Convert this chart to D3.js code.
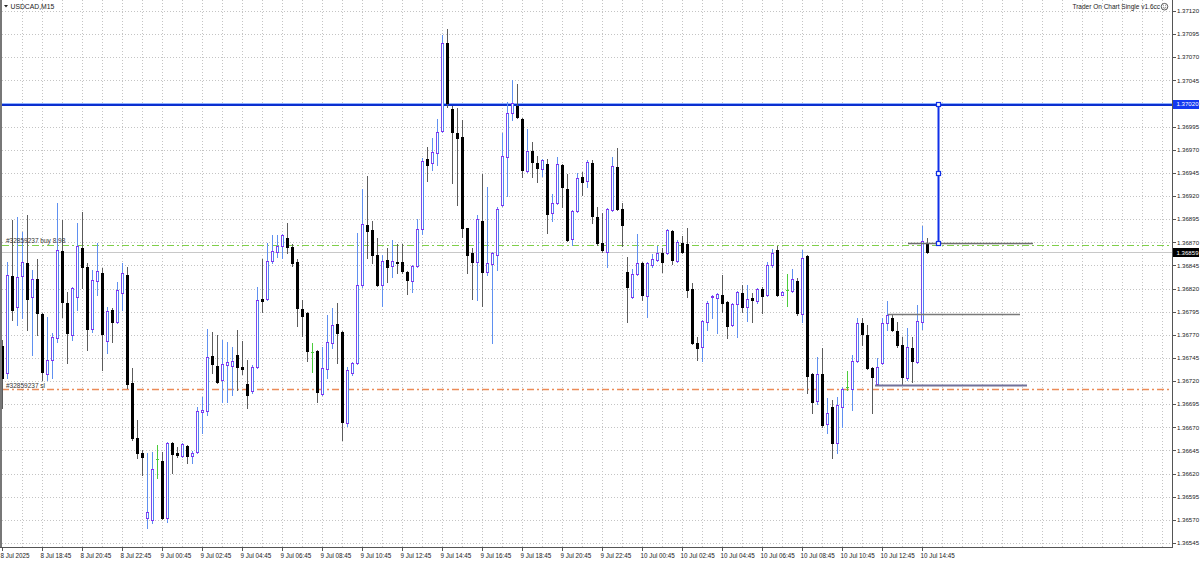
<!DOCTYPE html>
<html>
<head>
<meta charset="utf-8">
<script src="https://cdn.jsdelivr.net/npm/d3@7"></script>
<style>
    body { margin: 0; background: #fff; }
    #chart { width: 1200px; height: 561px; }
    text { font-family: "Liberation Sans", Arial, sans-serif; }
</style>
</head>
<body>
<div id="chart"></div>
<script>
// USDCAD M15, one value per bar, first bar 8 Jul 16:45
const open = [
    1.36758,1.36729,1.36834,1.36800,1.36834,1.36848,1.36811,1.36830,1.36793,1.36728,
    1.36743,1.36767,1.36861,1.36804,1.36770,1.36811,1.36864,1.36843,1.36776,1.36828,
    1.36837,1.36763,1.36797,1.36784,1.36815,1.36835,1.36718,1.36659,1.36642,1.36572,
    1.36570,1.36636,1.36634,1.36572,1.36653,1.36642,1.36639,1.36650,1.36639,1.36643,
    1.36687,1.36688,1.36747,1.36736,1.36721,1.36737,1.36736,1.36748,1.36735,1.36717,
    1.36709,1.36735,1.36809,1.36809,1.36850,1.36859,1.36866,1.36875,1.36865,1.36849,
    1.36798,1.36794,1.36751,1.36752,1.36706,1.36733,1.36761,1.36782,1.36773,1.36675,
    1.36729,1.36740,1.36824,1.36889,1.36883,1.36856,1.36824,1.36851,1.36844,1.36849,
    1.36849,1.36838,1.36828,1.36844,1.36884,1.36960,1.36956,1.36967,1.36990,1.37085,
    1.37014,1.36988,1.36984,1.36885,1.36858,1.36849,1.36893,1.36838,1.36847,1.36856,
    1.36910,1.36962,1.37010,1.37017,1.37003,1.36947,1.36969,1.36956,1.36949,1.36955,
    1.36902,1.36912,1.36954,1.36928,1.36874,1.36904,1.36941,1.36936,1.36956,1.36897,
    1.36869,1.36860,1.36905,1.36951,1.36906,1.36838,1.36811,1.36836,1.36848,1.36812,
    1.36845,1.36851,1.36858,1.36858,1.36882,1.36850,1.36869,1.36868,1.36820,1.36761,
    1.36757,1.36784,1.36811,1.36810,1.36813,1.36805,1.36781,1.36803,1.36815,1.36800,
    1.36810,1.36807,1.36819,1.36813,1.36845,1.36862,1.36813,1.36818,1.36817,1.36828,
    1.36793,1.36855,1.36728,1.36698,1.36728,1.36674,1.36692,1.36653,1.36692,1.36714,
    1.36711,1.36742,1.36783,1.36770,1.36734,1.36717,1.36740,1.36783,1.36788,1.36774,
    1.36759,1.36723,1.36756,1.36741,1.36784,1.36869
];
const high = [
    1.36764,1.36849,1.36894,1.36897,1.36881,1.36899,1.36840,1.36852,1.36794,1.36789,
    1.36772,1.36912,1.36894,1.36816,1.36822,1.36891,1.36903,1.36848,1.36840,1.36869,
    1.36842,1.36800,1.36799,1.36827,1.36848,1.36843,1.36734,1.36678,1.36646,1.36642,
    1.36643,1.36651,1.36643,1.36654,1.36654,1.36649,1.36653,1.36651,1.36644,1.36692,
    1.36703,1.36776,1.36773,1.36770,1.36764,1.36762,1.36757,1.36775,1.36763,1.36743,
    1.36737,1.36822,1.36852,1.36869,1.36878,1.36878,1.36879,1.36891,1.36868,1.36852,
    1.36808,1.36795,1.36761,1.36754,1.36757,1.36791,1.36799,1.36804,1.36774,1.36735,
    1.36741,1.36880,1.36928,1.36942,1.36893,1.36875,1.36856,1.36864,1.36872,1.36868,
    1.36868,1.36839,1.36845,1.36895,1.36961,1.36973,1.36983,1.37003,1.37094,1.37101,
    1.37017,1.37015,1.37002,1.36886,1.36864,1.36899,1.36944,1.36930,1.36859,1.36908,
    1.36988,1.37022,1.37045,1.37041,1.37004,1.36992,1.36978,1.36963,1.36960,1.36960,
    1.36922,1.36962,1.36955,1.36944,1.36905,1.36945,1.36946,1.36959,1.36959,1.36908,
    1.36902,1.36907,1.36962,1.36972,1.36912,1.36854,1.36841,1.36879,1.36849,1.36849,
    1.36857,1.36866,1.36864,1.36884,1.36883,1.36872,1.36877,1.36886,1.36826,1.36768,
    1.36786,1.36807,1.36813,1.36815,1.36835,1.36807,1.36804,1.36817,1.36824,1.36824,
    1.36815,1.36821,1.36822,1.36849,1.36863,1.36866,1.36817,1.36836,1.36841,1.36831,
    1.36862,1.36856,1.36729,1.36746,1.36756,1.36702,1.36700,1.36703,1.36714,1.36731,
    1.36748,1.36788,1.36788,1.36781,1.36735,1.36745,1.36788,1.36807,1.36793,1.36784,
    1.36768,1.36777,1.36768,1.36802,1.36888,1.36875
];
const low = [
    1.36691,1.36723,1.36786,1.36781,1.36788,1.36775,1.36748,1.36770,1.36721,1.36721,
    1.36723,1.36762,1.36789,1.36740,1.36764,1.36797,1.36821,1.36754,1.36773,1.36813,
    1.36732,1.36750,1.36762,1.36783,1.36797,1.36713,1.36656,1.36637,1.36618,1.36561,
    1.36567,1.36615,1.36571,1.36568,1.36621,1.36638,1.36638,1.36632,1.36631,1.36642,
    1.36664,1.36683,1.36729,1.36718,1.36697,1.36697,1.36705,1.36710,1.36728,1.36691,
    1.36707,1.36734,1.36795,1.36808,1.36848,1.36854,1.36853,1.36858,1.36844,1.36779,
    1.36769,1.36742,1.36730,1.36697,1.36705,1.36723,1.36756,1.36740,1.36656,1.36671,
    1.36727,1.36738,1.36822,1.36853,1.36848,1.36823,1.36801,1.36827,1.36832,1.36837,
    1.36837,1.36814,1.36816,1.36843,1.36879,1.36936,1.36948,1.36954,1.36989,1.37016,
    1.36934,1.36910,1.36876,1.36837,1.36809,1.36808,1.36801,1.36835,1.36761,1.36840,
    1.36909,1.36920,1.37002,1.37004,1.36941,1.36946,1.36941,1.36935,1.36942,1.36880,
    1.36893,1.36911,1.36908,1.36871,1.36867,1.36903,1.36921,1.36930,1.36891,1.36867,
    1.36860,1.36843,1.36904,1.36905,1.36866,1.36784,1.36810,1.36835,1.36808,1.36789,
    1.36843,1.36850,1.36838,1.36857,1.36847,1.36849,1.36858,1.36811,1.36760,1.36743,
    1.36742,1.36775,1.36788,1.36772,1.36795,1.36767,1.36779,1.36768,1.36795,1.36785,
    1.36784,1.36804,1.36794,1.36812,1.36843,1.36812,1.36813,1.36801,1.36816,1.36791,
    1.36784,1.36707,1.36686,1.36695,1.36670,1.36664,1.36637,1.36642,1.36670,1.36710,
    1.36689,1.36741,1.36759,1.36733,1.36686,1.36716,1.36738,1.36775,1.36774,1.36757,
    1.36716,1.36721,1.36719,1.36740,1.36776,1.36858
];
const close = [
    1.36723,1.36835,1.36797,1.36832,1.36849,1.36809,1.36830,1.36794,1.36730,1.36743,
    1.36768,1.36862,1.36805,1.36772,1.36821,1.36866,1.36843,1.36776,1.36829,1.36839,
    1.36771,1.36796,1.36784,1.36818,1.36837,1.36717,1.36659,1.36642,1.36638,1.36578,
    1.36625,1.36636,1.36572,1.36653,1.36641,1.36640,1.36652,1.36639,1.36642,1.36688,
    1.36689,1.36746,1.36738,1.36719,1.36738,1.36741,1.36742,1.36735,1.36733,1.36705,
    1.36735,1.36808,1.36807,1.36850,1.36861,1.36866,1.36878,1.36865,1.36848,1.36799,
    1.36790,1.36752,1.36751,1.36708,1.36734,1.36762,1.36781,1.36772,1.36676,1.36732,
    1.36740,1.36824,1.36890,1.36882,1.36856,1.36824,1.36850,1.36843,1.36850,1.36848,
    1.36839,1.36829,1.36844,1.36884,1.36958,1.36954,1.36968,1.36989,1.37085,1.37021,
    1.36989,1.36983,1.36886,1.36856,1.36849,1.36895,1.36838,1.36848,1.36858,1.36906,
    1.36963,1.37010,1.37021,1.37005,1.36948,1.36969,1.36957,1.36950,1.36959,1.36901,
    1.36912,1.36955,1.36930,1.36872,1.36904,1.36940,1.36935,1.36957,1.36898,1.36869,
    1.36862,1.36906,1.36952,1.36906,1.36889,1.36822,1.36836,1.36848,1.36813,1.36848,
    1.36852,1.36858,1.36849,1.36883,1.36851,1.36870,1.36860,1.36818,1.36761,1.36756,
    1.36785,1.36804,1.36812,1.36814,1.36804,1.36779,1.36803,1.36816,1.36800,1.36809,
    1.36808,1.36820,1.36812,1.36845,1.36858,1.36813,1.36816,1.36818,1.36830,1.36794,
    1.36853,1.36725,1.36697,1.36728,1.36673,1.36686,1.36653,1.36694,1.36711,1.36714,
    1.36742,1.36783,1.36771,1.36734,1.36724,1.36735,1.36783,1.36791,1.36775,1.36759,
    1.36724,1.36757,1.36742,1.36785,1.36871,1.36859
];

const priceTicks = [
    1.37120, 1.37095, 1.37070, 1.37045, 1.37020, 1.36995, 1.36970, 1.36945,
    1.36920, 1.36895, 1.36870, 1.36845, 1.36820, 1.36795, 1.36770, 1.36745,
    1.36720, 1.36695, 1.36670, 1.36645, 1.36620, 1.36595, 1.36570, 1.36545
];
const timeLabels = [
    "8 Jul 2025", "8 Jul 18:45", "8 Jul 20:45", "8 Jul 22:45", "9 Jul 00:45", "9 Jul 02:45",
    "9 Jul 04:45", "9 Jul 06:45", "9 Jul 08:45", "9 Jul 10:45", "9 Jul 12:45", "9 Jul 14:45",
    "9 Jul 16:45", "9 Jul 18:45", "9 Jul 20:45", "9 Jul 22:45", "10 Jul 00:45", "10 Jul 02:45",
    "10 Jul 04:45", "10 Jul 06:45", "10 Jul 08:45", "10 Jul 10:45", "10 Jul 12:45", "10 Jul 14:45"
];
const barsPerLabel = 8;

// trade levels
const tpPrice = 1.37020;
const entryPrice = 1.36867;
const bidPrice = 1.36859;
const slPrice = 1.36711;
const entryText = "#32859237 buy 8.98";
const slText = "#32859237 sl";

// drawn horizontal segments in the shift area: price, from bar, to bar
const segPrices = [1.36869, 1.36793, 1.36716];
const segFrom = [181.1, 177.1, 174.5];
const segTo = [206.1, 203.5, 204.9];
const tpBar = 187.1;

class CandleVis {
    constructor(parentElement) {
        this.parentElement = parentElement;
        this.initVis();
    }

    initVis() {
        let vis = this;

        vis.width = 1200;
        vis.height = 561;
        vis.plotRight = 1172.5;
        vis.plotBottom = 547.5;

        vis.svg = d3.select("#" + vis.parentElement).append("svg")
            .attr("width", vis.width)
            .attr("height", vis.height);

        vis.svg.append("rect")
            .attr("width", vis.width)
            .attr("height", vis.height)
            .attr("fill", "#fff");

        // one bar is 5px wide
        vis.x = d3.scaleLinear().domain([0, 234]).range([2.5, 1172.5]);
        vis.y = d3.scaleLinear().domain([1.36545, 1.37120]).range([543, 11]);
        vis.fmt = d3.format(".5f");

        vis.wrangleData();
    }

    wrangleData() {
        let vis = this;

        vis.bars = open.map((o, i) => ({i: i, o: o, h: high[i], l: low[i], c: close[i]}));
        vis.bars.forEach(d => {
            d.kind = d.c > d.o ? "up" : (d.c < d.o ? "down" : "doji");
            d.top = Math.round(vis.y(Math.max(d.o, d.c)));
            d.bot = Math.round(vis.y(Math.min(d.o, d.c)));
        });

        vis.labels = timeLabels.map((t, k) => ({text: t, bar: k * barsPerLabel}));
        vis.segments = segPrices.map((p, k) => ({price: p, from: segFrom[k], to: segTo[k], k: k}));

        vis.updateVis();
    }

    updateVis() {
        let vis = this;
        let y = v => Math.round(vis.y(v)) + 0.5;

        // grid
        let grid = vis.svg.append("g")
            .attr("shape-rendering", "crispEdges")
            .attr("stroke", "#c4c4c4")
            .attr("stroke-dasharray", "1,2");

        grid.selectAll(".hgrid")
            .data(priceTicks)
            .enter().append("line")
            .attr("x1", 2).attr("x2", vis.plotRight)
            .attr("y1", d => y(d)).attr("y2", d => y(d));

        grid.selectAll(".vgrid")
            .data(d3.range(4, 234, 4))
            .enter().append("line")
            .attr("x1", d => vis.x(d)).attr("x2", d => vis.x(d))
            .attr("y1", 0).attr("y2", vis.plotBottom);

        // bid line
        vis.svg.append("line")
            .attr("x1", 2).attr("x2", vis.plotRight)
            .attr("y1", y(bidPrice)).attr("y2", y(bidPrice))
            .attr("stroke", "#c8c8c8")
            .attr("shape-rendering", "crispEdges");

        // entry & sl levels
        vis.svg.append("line")
            .attr("x1", 2).attr("x2", vis.plotRight)
            .attr("y1", y(entryPrice)).attr("y2", y(entryPrice))
            .attr("stroke", "#7fcf4a")
            .attr("stroke-dasharray", "7,3,2,3")
            .attr("shape-rendering", "crispEdges");

        vis.svg.append("line")
            .attr("x1", 2).attr("x2", vis.plotRight)
            .attr("y1", y(slPrice)).attr("y2", y(slPrice))
            .attr("stroke", "#ec8c58")
            .attr("stroke-width", 1.5)
            .attr("stroke-dasharray", "7,3,2,3");

        // take profit line
        vis.svg.append("line")
            .attr("x1", 0).attr("x2", vis.plotRight)
            .attr("y1", y(tpPrice) - 1).attr("y2", y(tpPrice) - 1)
            .attr("stroke", "#8fb2ff")
            .attr("shape-rendering", "crispEdges");
        vis.svg.append("line")
            .attr("x1", 0).attr("x2", vis.plotRight)
            .attr("y1", y(tpPrice) + 0.5).attr("y2", y(tpPrice) + 0.5)
            .attr("stroke", "#0b2fcf")
            .attr("stroke-width", 2)
            .attr("shape-rendering", "crispEdges");

        // candles
        let candles = vis.svg.append("g")
            .attr("shape-rendering", "crispEdges");

        let colorWick = {up: "#5f90f0", down: "#5c5c5c", doji: "#4ccc3c"};

        candles.selectAll(".wick")
            .data(vis.bars)
            .enter().append("line")
            .attr("class", "wick")
            .attr("x1", d => vis.x(d.i)).attr("x2", d => vis.x(d.i))
            .attr("y1", d => Math.round(vis.y(d.h)))
            .attr("y2", d => Math.round(vis.y(d.l)) + 1)
            .attr("stroke", d => colorWick[d.kind]);

        candles.selectAll(".down")
            .data(vis.bars.filter(d => d.kind === "down"))
            .enter().append("rect")
            .attr("x", d => vis.x(d.i) - 1.5)
            .attr("width", 3)
            .attr("y", d => d.top)
            .attr("height", d => Math.max(1, d.bot - d.top + 1))
            .attr("fill", "#000");

        let ups = vis.bars.filter(d => d.kind === "up");

        // bull body: blue outline 3px wide, white core, violet caps
        candles.selectAll(".upOuter")
            .data(ups)
            .enter().append("rect")
            .attr("x", d => vis.x(d.i) - 1.5)
            .attr("width", 3)
            .attr("y", d => d.top)
            .attr("height", d => Math.max(1, d.bot - d.top + 1))
            .attr("fill", "#4f86f2");

        candles.selectAll(".upLeft")
            .data(ups)
            .enter().append("rect")
            .attr("x", d => vis.x(d.i) - 1.5)
            .attr("width", 1)
            .attr("y", d => d.top)
            .attr("height", d => Math.max(1, d.bot - d.top + 1))
            .attr("fill", "#7a4cf0");

        candles.selectAll(".upInner")
            .data(ups.filter(d => d.bot - d.top >= 2))
            .enter().append("rect")
            .attr("x", d => vis.x(d.i) - 0.5)
            .attr("width", 1)
            .attr("y", d => d.top + 1)
            .attr("height", d => d.bot - d.top - 1)
            .attr("fill", "#fff");

        candles.selectAll(".upCaps")
            .data(ups)
            .enter().append("path")
            .attr("d", d => `M${vis.x(d.i) - 1.5},${d.top + 0.5}h3M${vis.x(d.i) - 1.5},${d.bot + 0.5}h3`)
            .attr("stroke", "#8330f0");

        candles.selectAll(".doji")
            .data(vis.bars.filter(d => d.kind === "doji"))
            .enter().append("line")
            .attr("x1", d => vis.x(d.i) - 1.5).attr("x2", d => vis.x(d.i) + 1.5)
            .attr("y1", d => y(d.o)).attr("y2", d => y(d.o))
            .attr("stroke", colorWick.doji);

        // horizontal segments drawn on the chart
        let segColor = ["#6e6e6e", "#7a7a7a", "#72729a"];
        let segWidth = [1.5, 1.5, 2];
        vis.svg.selectAll(".seg")
            .data(vis.segments)
            .enter().append("line")
            .attr("x1", d => vis.x(d.from)).attr("x2", d => vis.x(d.to))
            .attr("y1", d => y(d.price)).attr("y2", d => y(d.price))
            .attr("stroke", d => segColor[d.k])
            .attr("stroke-width", d => segWidth[d.k]);

        // take profit drag line
        let tx = Math.round(vis.x(tpBar)) + 0.5;
        let midPrice = (tpPrice + segPrices[0]) / 2;
        vis.svg.append("line")
            .attr("x1", tx).attr("x2", tx)
            .attr("y1", y(tpPrice)).attr("y2", y(segPrices[0]))
            .attr("stroke", "#1030e8")
            .attr("stroke-width", 2);
        vis.svg.selectAll(".handle")
            .data([tpPrice, midPrice, segPrices[0]])
            .enter().append("rect")
            .attr("x", tx - 2).attr("y", d => y(d) - 2)
            .attr("width", 4).attr("height", 4)
            .attr("fill", "#fff")
            .attr("stroke", "#1030e8")
            .attr("stroke-width", 1.2);

        // order labels
        vis.svg.append("text")
            .attr("x", 6).attr("y", y(entryPrice) - 2.5)
            .attr("font-size", "6.5px").attr("fill", "#333")
            .text(entryText);
        vis.svg.append("text")
            .attr("x", 6).attr("y", y(slPrice) - 2)
            .attr("font-size", "6.5px").attr("fill", "#333")
            .text(slText);

        // frame
        let frame = vis.svg.append("g").attr("shape-rendering", "crispEdges");
        frame.append("line")
            .attr("x1", 1).attr("x2", 1).attr("y1", 0).attr("y2", vis.plotBottom)
            .attr("stroke", "#777").attr("stroke-width", 2);
        frame.append("line")
            .attr("x1", vis.plotRight).attr("x2", vis.plotRight).attr("y1", 0).attr("y2", vis.plotBottom)
            .attr("stroke", "#555");
        frame.append("line")
            .attr("x1", 0).attr("x2", vis.plotRight).attr("y1", vis.plotBottom).attr("y2", vis.plotBottom)
            .attr("stroke", "#555");

        // price axis
        frame.selectAll(".ptick")
            .data(priceTicks)
            .enter().append("line")
            .attr("x1", vis.plotRight).attr("x2", vis.plotRight + 3)
            .attr("y1", d => y(d)).attr("y2", d => y(d))
            .attr("stroke", "#555");

        vis.svg.selectAll(".plabel")
            .data(priceTicks)
            .enter().append("text")
            .attr("x", 1177)
            .attr("y", d => vis.y(d) + 2.2)
            .attr("font-size", "6.1px")
            .attr("fill", "#222")
            .text(d => vis.fmt(d));

        // time axis
        frame.selectAll(".ttick")
            .data(vis.labels)
            .enter().append("line")
            .attr("x1", d => vis.x(d.bar)).attr("x2", d => vis.x(d.bar))
            .attr("y1", vis.plotBottom).attr("y2", vis.plotBottom + 3)
            .attr("stroke", "#555");

        vis.svg.selectAll(".tlabel")
            .data(vis.labels)
            .enter().append("text")
            .attr("x", d => vis.x(d.bar) - 2)
            .attr("y", 557.5)
            .attr("font-size", "6.3px")
            .attr("fill", "#222")
            .text(d => d.text);

        // level boxes on the price axis
        let boxes = [
            {price: tpPrice, fill: "#1438f0"},
            {price: bidPrice, fill: "#000"}
        ];
        boxes.forEach(b => {
            vis.svg.append("rect")
                .attr("x", vis.plotRight + 0.5).attr("y", Math.round(vis.y(b.price)) - 4)
                .attr("width", 26).attr("height", 9)
                .attr("fill", b.fill);
            vis.svg.append("text")
                .attr("x", 1176.5).attr("y", vis.y(b.price) + 2.2)
                .attr("font-size", "6.1px").attr("fill", "#fff")
                .text(vis.fmt(b.price));
        });

        // header texts
        vis.svg.append("path")
            .attr("d", "M4,5 L8,5 L6,7.5 Z")
            .attr("fill", "#222");
        vis.svg.append("text")
            .attr("x", 10.5).attr("y", 8.5)
            .attr("font-size", "6.8px").attr("fill", "#222")
            .text("USDCAD,M15");

        vis.svg.append("text")
            .attr("x", 1160).attr("y", 8.8)
            .attr("text-anchor", "end")
            .attr("font-size", "6.5px").attr("fill", "#222")
            .text("Trader On Chart Single v1.6cc");
        vis.svg.append("circle")
            .attr("cx", 1164.5).attr("cy", 6.7).attr("r", 3.3)
            .attr("fill", "#fff").attr("stroke", "#333").attr("stroke-width", 0.8);
        vis.svg.append("path")
            .attr("d", "M1162.8,7.3 Q1164.5,9.2 1166.2,7.3")
            .attr("fill", "none").attr("stroke", "#333").attr("stroke-width", 0.6);
        vis.svg.selectAll(".eye")
            .data([-1.1, 1.1])
            .enter().append("circle")
            .attr("cx", d => 1164.5 + d).attr("cy", 5.8).attr("r", 0.45)
            .attr("fill", "#333");
    }
}

let chartVis = new CandleVis("chart");
</script>
</body>
</html>
